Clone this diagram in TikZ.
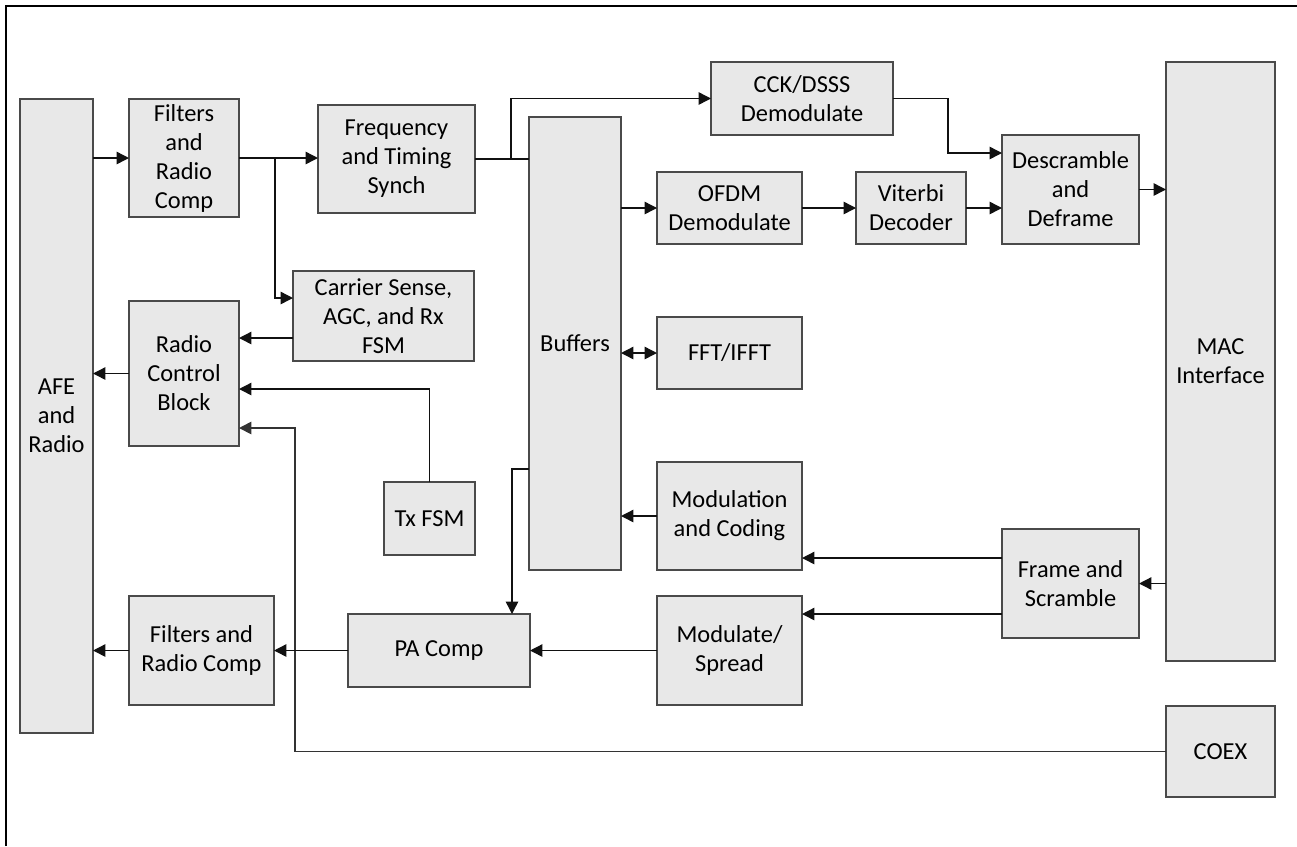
\documentclass[tikz,border=0pt]{standalone}
\usepackage{fontspec}
\setmainfont{Carlito}
\usetikzlibrary{arrows.meta}
\definecolor{boxfill}{HTML}{E8E8E8}
\definecolor{boxline}{HTML}{4A4A4A}
\definecolor{wire}{HTML}{111111}

\begin{document}
\begin{tikzpicture}[x=0.02cm, y=-0.02cm,
    blk/.style={draw=boxline, fill=boxfill, line width=0.8pt, align=center, inner sep=1pt, outer sep=0pt,
      font=\fontsize{13.9}{16.5}\selectfont},
    sz/.style 2 args={minimum width=#1*0.02cm, minimum height=#2*0.02cm},
    tip/.tip={Triangle[length=7pt, width=7pt]},
    arr/.style={-tip, draw=wire, line width=0.8pt},
    ln/.style={draw=wire, line width=0.8pt}]
  \useasboundingbox (0,0) rectangle (1297,846);
  \draw[line width=1.3pt] (6,846) -- (6,6) -- (1297,6);

  % receive side
  \node[blk, sz={73}{634}] (afe) at (56.5,416) {AFE\\and\\Radio};
  \node[blk, sz={110}{118}] (filt1) at (184,158) {Filters\\and\\Radio\\Comp};
  \node[blk, sz={157}{108}] (freq) at (396.5,159) {Frequency\\and Timing\\Synch};
  \node[blk, sz={181}{90}] (cs) at (383.5,316) {Carrier Sense,\\AGC, and Rx\\FSM};
  \node[blk, sz={110}{145}] (rcb) at (184,373.5) {Radio\\Control\\Block};
  \node[blk, sz={91}{73}] (txfsm) at (429.5,518.5) {Tx FSM};
  \node[blk, sz={92}{453}] (buf) at (575,343.5) {Buffers};
  \node[blk, sz={182}{73}] (cck) at (802,98.5) {CCK/DSSS\\Demodulate};
  \node[blk, sz={145}{72}] (ofdm) at (729.5,208) {OFDM\\Demodulate};
  \node[blk, sz={110}{72}] (vit) at (911,208) {Viterbi\\Decoder};
  \node[blk, sz={137}{109}] (desc) at (1070.5,189.5) {Descramble\\and\\Deframe};
  \node[blk, sz={109}{599}] (mac) at (1220.5,361.5) {MAC\\Interface};
  \node[blk, sz={145}{72}] (fft) at (729.5,353) {FFT/IFFT};

  % transmit side
  \node[blk, sz={145}{108}] (modc) at (729.5,516) {Modulation\\and Coding};
  \node[blk, sz={137}{109}] (frame) at (1070.5,583.5) {Frame and\\Scramble};
  \node[blk, sz={145}{109}] (mods) at (729.5,650.5) {Modulate/\\Spread};
  \node[blk, sz={182}{73}] (pa) at (439,650.5) {PA Comp};
  \node[blk, sz={145}{109}] (filt2) at (201.5,650.5) {Filters and\\Radio Comp};
  \node[blk, sz={109}{91}] (coex) at (1220.5,751.5) {COEX};

  \coordinate (tap1) at (275,158);
  \coordinate (tap2) at (511,159);
  \coordinate (csin) at (293,298);
  \coordinate (csout) at (293,338);
  \coordinate (bend1) at (948,153);
  \coordinate (txin) at (239,389);
  \coordinate (bend2) at (295,428);
  \coordinate (frout1) at (1002,558);
  \coordinate (frout2) at (1002,614);
  \coordinate (bufout) at (529,469);
  \coordinate (pain) at (512,614);

  \draw[arr] (afe.east |- filt1) -- (filt1.west);
  \draw[arr] (filt1.east) -- (freq.west |- filt1.east);
  \draw[arr] (tap1) |- (csin);
  \draw[ln] (freq.east) -- (buf.west |- freq.east);
  \draw[arr] (tap2) |- (cck.west);
  \draw[arr] (buf.east |- ofdm) -- (ofdm.west);
  \draw[arr] (ofdm.east) -- (vit.west);
  \draw[arr] (vit.east) -- (desc.west |- vit.east);
  \draw[arr] (cck.east) -| (bend1) -- (desc.west |- bend1);
  \draw[arr] (desc.east) -- (mac.west |- desc.east);
  \draw[arr] (csout) -- (rcb.east |- csout);
  \draw[arr] (rcb.west) -- (afe.east |- rcb.west);
  \draw[arr] (txfsm.north) |- (txin);
  \draw[arr, draw=black!80, line width=1pt] (coex.west) -| (bend2) -- (rcb.east |- bend2);
  \draw[tip-tip, ln] (buf.east |- fft) -- (fft.west);
  \draw[arr] (modc.west) -- (buf.east |- modc.west);
  \draw[arr] (mac.west |- frame) -- (frame.east);
  \draw[arr] (frout1) -- (modc.east |- frout1);
  \draw[arr] (frout2) -- (mods.east |- frout2);
  \draw[arr] (bufout) -| (pain);
  \draw[arr] (mods.west) -- (pa.east);
  \draw[arr] (pa.west) -- (filt2.east);
  \draw[arr] (filt2.west) -- (afe.east |- filt2.west);
\end{tikzpicture}
\end{document}
